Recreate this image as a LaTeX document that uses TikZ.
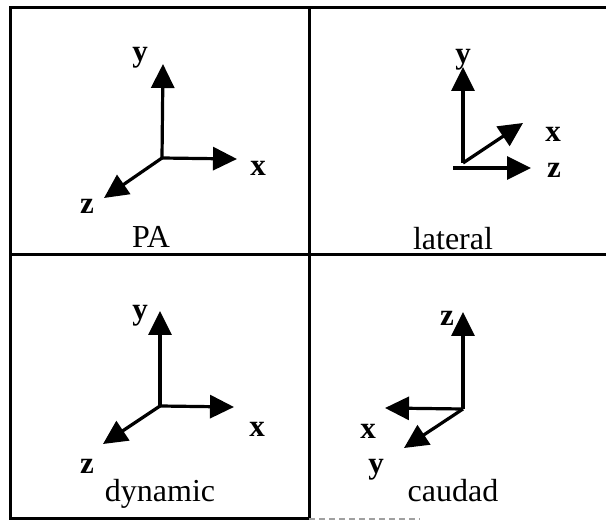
\documentclass[tikz,border=0pt]{standalone}
\usepackage{fontspec}
\setmainfont{Liberation Serif}
\usetikzlibrary{arrows.meta}
\definecolor{Ink}{HTML}{000000}
\definecolor{Faint}{HTML}{A0A0A0}
\tikzset{
  frame/.style={draw=Ink,line width=3pt},
  fadedframe/.style={draw=Faint,line width=1.8pt,dash pattern=on 6pt off 4pt},
  axis/.style={-{Triangle[length=24pt,width=23pt]},draw=Ink,line width=3.2pt},
  axlabel/.style={font=\fontsize{31}{36}\selectfont\bfseries,inner sep=0pt},
  viewname/.style={font=\fontsize{32}{38}\selectfont,anchor=base,inner sep=0pt}
}

\begin{document}
\begin{tikzpicture}[x=1pt,y=-1pt]
  \useasboundingbox (0,0) rectangle (606,521);
  \draw[frame] (606,8) -- (10,8) -- (10,519) -- (309,519);
  \draw[frame] (10,255) -- (606,255);
  \draw[frame] (309,8) -- (309,519);
  \draw[fadedframe] (309,519) -- (420,519);

  % PA
  \coordinate (pa-o) at (162,158);
  \coordinate (pa-x) at (237,159);
  \coordinate (pa-y) at (163,64);
  \coordinate (pa-z) at (104,198);
  \draw[axis] (pa-o) -- (pa-y);
  \draw[axis] (pa-o) -- (pa-x);
  \draw[axis] (pa-o) -- (pa-z);
  \node[axlabel] (pa-ly) at (140,58) {y};
  \node[axlabel] (pa-lx) at (258,168) {x};
  \node[axlabel] (pa-lz) at (87,206) {z};
  \node[viewname] (pa-name) at (151,248) {PA};

  % lateral
  \coordinate (lat-o) at (463,163);
  \coordinate (lat-y) at (463,67);
  \coordinate (lat-x) at (523,123);
  \coordinate (lat-s) at (453,168);
  \coordinate (lat-z) at (531,168);
  \draw[axis] (lat-o) -- (lat-y);
  \draw[axis] (lat-o) -- (lat-x);
  \draw[axis] (lat-s) -- (lat-z);
  \node[axlabel] (lat-ly) at (463,60) {y};
  \node[axlabel] (lat-lx) at (553,134) {x};
  \node[axlabel] (lat-lz) at (554,170) {z};
  \node[viewname] (lat-name) at (453,250) {lateral};

  % dynamic
  \coordinate (dyn-o) at (160,406);
  \coordinate (dyn-y) at (160,311);
  \coordinate (dyn-x) at (234,407);
  \coordinate (dyn-z) at (103,444);
  \draw[axis] (dyn-o) -- (dyn-y);
  \draw[axis] (dyn-o) -- (dyn-x);
  \draw[axis] (dyn-o) -- (dyn-z);
  \node[axlabel] (dyn-ly) at (140,316) {y};
  \node[axlabel] (dyn-lx) at (257,429) {x};
  \node[axlabel] (dyn-lz) at (87,466) {z};
  \node[viewname] (dyn-name) at (160,502) {dynamic};

  % caudad
  \coordinate (cau-o) at (463,409);
  \coordinate (cau-z) at (463,312);
  \coordinate (cau-x) at (385,408);
  \coordinate (cau-y) at (404,448);
  \draw[axis] (cau-o) -- (cau-z);
  \draw[axis] (cau-o) -- (cau-x);
  \draw[axis] (cau-o) -- (cau-y);
  \node[axlabel] (cau-lz) at (447,318) {z};
  \node[axlabel] (cau-lx) at (368,431) {x};
  \node[axlabel] (cau-ly) at (376,470) {y};
  \node[viewname] (cau-name) at (453,502) {caudad};
\end{tikzpicture}
\end{document}
